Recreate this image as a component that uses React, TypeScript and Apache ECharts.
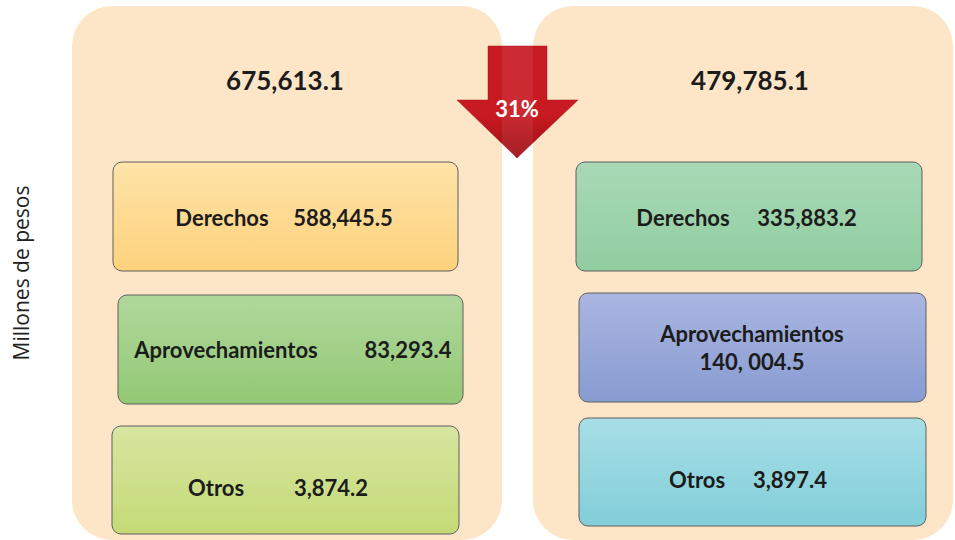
import React, { useEffect, useRef } from "react";
import * as echarts from "echarts";

const categories = ["Derechos", "Aprovechamientos", "Otros"];
const totals = ["675,613.1", "479,785.1"];
const leftValues = ["588,445.5", "83,293.4", "3,874.2"];
const rightValues = ["335,883.2", "140, 004.5", "3,897.4"];
const changeLabel = "31%";
const axisTitle = "Millones de pesos";

const leftColors = [
  ["#FFE3A8", "#FDD27C"],
  ["#B0D89C", "#93C874"],
  ["#D6E6A0", "#C4DA76"],
];
const rightColors = [
  ["#A9D9B7", "#90CDA0"],
  ["#AAB6E1", "#889BD1"],
  ["#A7DEE6", "#82CED9"],
];

// layout of boxes: [x, y, w, h]
const leftBoxes = [
  [113, 162, 345, 109],
  [118, 295, 345, 109],
  [112, 426, 347, 108],
];
const rightBoxes = [
  [576, 162, 346, 109],
  [579, 293, 347, 109],
  [579, 418, 347, 108],
];
// label/value text centers: [lx, ly, vx, vy]
const leftText = [
  [222, 217, 343, 217],
  [226, 349, 408, 349],
  [216, 487, 331, 487],
];
const rightText = [
  [683, 217, 807, 217],
  [752, 333, 752, 361],
  [697, 479, 790, 479],
];

const FONT = "Lato, 'Open Sans', sans-serif";

function grad(c: string[]) {
  return {
    type: "linear",
    x: 0,
    y: 0,
    x2: 0,
    y2: 1,
    colorStops: [
      { offset: 0, color: c[0] },
      { offset: 1, color: c[1] },
    ],
  };
}

function boxElements(boxes: number[][], colors: string[][], texts: number[][], values: string[]) {
  const els: any[] = [];
  boxes.forEach((b, i) => {
    els.push({
      type: "rect",
      shape: { x: b[0], y: b[1], width: b[2], height: b[3], r: 9 },
      style: { fill: grad(colors[i]) as any, stroke: "#5f5f5f", lineWidth: 1 },
      z: 10,
    });
    const t = texts[i];
    els.push({
      type: "text",
      x: t[0],
      y: t[1],
      style: {
        text: categories[i],
        font: `bold 22px ${FONT}`,
        fill: "#1c1c1c",
        align: "center",
        verticalAlign: "middle",
      },
      z: 11,
    });
    els.push({
      type: "text",
      x: t[2],
      y: t[3],
      style: {
        text: values[i],
        font: `bold 22px ${FONT}`,
        fill: "#1c1c1c",
        align: "center",
        verticalAlign: "middle",
      },
      z: 11,
    });
  });
  return els;
}

export default function App() {
  const ref = useRef<HTMLDivElement>(null);
  useEffect(() => {
    document.body.style.margin = "0";
    const chart = echarts.init(ref.current!, null, { renderer: "svg" });
    const arrowPts = [
      [488, 46],
      [547, 46],
      [547, 100],
      [578, 100],
      [517, 158],
      [457, 100],
      [488, 100],
    ];
    const graphic: any[] = [
      {
        type: "rect",
        shape: { x: 72, y: 6, width: 430, height: 534, r: 40 },
        style: { fill: "#FDE6C8" },
        z: 1,
      },
      {
        type: "rect",
        shape: { x: 533, y: 6, width: 420, height: 534, r: 40 },
        style: { fill: "#FDE6C8" },
        z: 1,
      },
      {
        type: "text",
        x: 285,
        y: 80,
        style: {
          text: totals[0],
          font: `bold 26px ${FONT}`,
          fill: "#1c1c1c",
          align: "center",
          verticalAlign: "middle",
        },
        z: 5,
      },
      {
        type: "text",
        x: 750,
        y: 80,
        style: {
          text: totals[1],
          font: `bold 26px ${FONT}`,
          fill: "#1c1c1c",
          align: "center",
          verticalAlign: "middle",
        },
        z: 5,
      },
      {
        type: "polygon",
        shape: { points: arrowPts },
        style: {
          fill: {
            type: "linear",
            x: 0,
            y: 0,
            x2: 0,
            y2: 1,
            colorStops: [
              { offset: 0, color: "#C81B24" },
              { offset: 0.6, color: "#C81A22" },
              { offset: 1, color: "#9E0F15" },
            ],
          } as any,
          stroke: "#A8141A",
          lineWidth: 0.5,
        },
        z: 20,
      },
      {
        type: "rect",
        shape: { x: 502, y: 46, width: 31, height: 110 },
        style: { fill: "rgba(255,255,255,0.07)" },
        z: 21,
      },
      {
        type: "text",
        x: 517,
        y: 108,
        style: {
          text: changeLabel,
          font: `bold 22px ${FONT}`,
          fill: "#ffffff",
          align: "center",
          verticalAlign: "middle",
        },
        z: 22,
      },
      {
        type: "text",
        x: 21,
        y: 273,
        rotation: Math.PI / 2,
        style: {
          text: axisTitle,
          font: `21px 'Open Sans', sans-serif`,
          fill: "#222222",
          align: "center",
          verticalAlign: "middle",
        },
        z: 5,
      },
      ...boxElements(leftBoxes, leftColors, leftText, leftValues),
      ...boxElements(rightBoxes, rightColors, rightText, rightValues),
    ];
    chart.setOption({
      animation: false,
      backgroundColor: "#ffffff",
      graphic,
    });
    return () => chart.dispose();
  }, []);
  return <div ref={ref} style={{ width: 955, height: 540 }} />;
}
